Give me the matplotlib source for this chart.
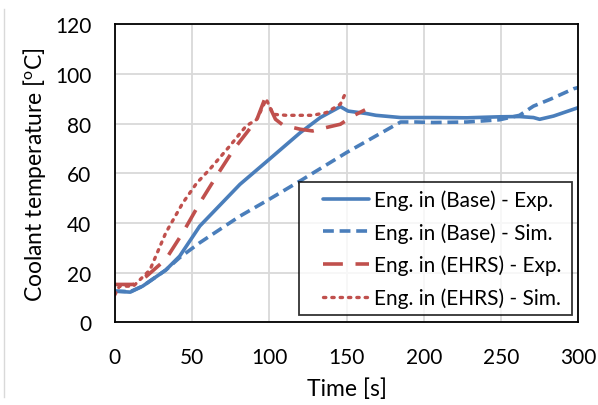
import matplotlib
matplotlib.use("Agg")
import matplotlib.pyplot as plt
from matplotlib.lines import Line2D
from matplotlib.legend_handler import HandlerLine2D

plt.rcParams['font.family'] = ['Lato', 'DejaVu Sans']

# Base - Exp (solid blue)
base_exp_t = [0, 10, 18, 33, 42, 55, 81, 100, 120, 133, 146, 151, 163, 169, 185, 206, 228, 249, 262, 271, 275, 284, 292, 300]
base_exp_T = [12.5, 12.1, 14.5, 21, 26.6, 38.7, 55.5, 65.6, 76.3, 82.4, 86.8, 85, 84, 83.3, 82.4, 82.4, 82.3, 82.7, 82.8, 82.4, 81.7, 83, 84.7, 86.4]

# Base - Sim (dashed blue)
base_sim_t = [0, 10, 18, 33, 42, 55, 81, 100, 120, 150, 169, 185, 195, 206, 228, 249, 262, 271, 282, 297, 300]
base_sim_T = [12.5, 12.3, 14.5, 21, 26, 32, 42.7, 49.5, 56.9, 68.3, 75, 80.6, 80.6, 80.4, 80.6, 81.5, 83.3, 87, 89.8, 94, 94.5]

# EHRS - Exp (long-dashed red)
ehrs_exp_t = [0, 12, 20.5, 33, 44, 55, 66, 77, 85, 92, 97, 100, 104, 109, 120, 128, 137, 146, 154, 162]
ehrs_exp_T = [15.2, 15.2, 18.5, 25.3, 36, 48, 59, 69.6, 76, 81.7, 89.8, 87, 81.7, 79.3, 77.7, 77, 78.4, 79.7, 83, 85.5]

# EHRS - Sim (dotted red)
ehrs_sim_t = [0, 3, 12, 22.7, 33, 44, 53, 61.5, 74.5, 85, 92, 98, 102.5, 111, 128, 137, 146, 149]
ehrs_sim_T = [11, 14.5, 14.5, 21, 36, 48, 56, 61.6, 71, 79, 81.7, 89.8, 83.7, 83.3, 83.3, 84.4, 87.8, 91.8]

labels = ["Eng. in (Base) - Exp.", "Eng. in (Base) - Sim.",
          "Eng. in (EHRS) - Exp.", "Eng. in (EHRS) - Sim."]
x_ticks = [0, 50, 100, 150, 200, 250, 300]
y_ticks = [0, 20, 40, 60, 80, 100, 120]

blue = '#4a7ebb'
red = '#c0504d'

fig = plt.figure(figsize=(5.98, 4.06), dpi=100)
ax = fig.add_axes([0.192, 0.204, 0.775, 0.734])

ax.plot(base_exp_t, base_exp_T, color=blue, lw=2.6, ls='-', label=labels[0], solid_capstyle='round')
ax.plot(base_sim_t, base_sim_T, color=blue, lw=2.6, ls=(0, (3, 1.6)), label=labels[1])
ax.plot(ehrs_exp_t, ehrs_exp_T, color=red, lw=2.6, ls=(0, (5.5, 3.5)), label=labels[2])
ax.plot(ehrs_sim_t, ehrs_sim_T, color=red, lw=2.4, ls=(0, (0.7, 1.8)), label=labels[3], dash_capstyle='round')

ax.set_xlim(0, 300)
ax.set_ylim(0, 120)
ax.set_xticks(x_ticks)
ax.set_yticks(y_ticks)
ax.grid(True, color='#d9d9d9', lw=1.3)
ax.set_axisbelow(True)
for s in ax.spines.values():
    s.set_color('black')
    s.set_linewidth(1.3)
ax.tick_params(length=0, labelsize=15, pad=17, colors='#000000')
ax.tick_params(axis='x', pad=18)

ax.set_xlabel("Time [s]", fontsize=16.5, labelpad=7)
ax.set_ylabel("Coolant temperature [$\\mathregular{^o}$C]", fontsize=16.5, labelpad=5)

leg = ax.legend(loc='lower left', bbox_to_anchor=(0.397, 0.023, 0.59, 0.443), mode='expand',
                fontsize=15, frameon=True, fancybox=False, edgecolor='black',
                handlelength=3.0, handletextpad=0.25, borderpad=0.35, labelspacing=0.58,
                borderaxespad=0, handler_map={Line2D: HandlerLine2D(xpad=0.8)})
leg.get_frame().set_linewidth(1.3)

fig.add_artist(Line2D([0.007, 0.007], [0.02, 0.975], color='#d9d9d9', lw=1.0))

fig.savefig("out.png", dpi=100)
